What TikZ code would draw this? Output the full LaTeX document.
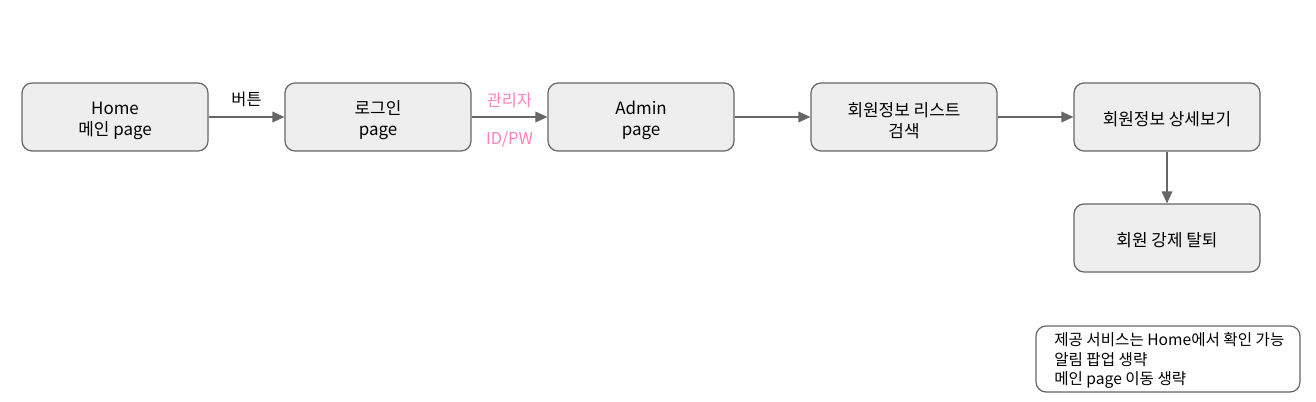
\documentclass[tikz,border=0pt]{standalone}
\usepackage{fontspec}
\setmainfont{Noto Sans CJK KR}
\usetikzlibrary{arrows.meta}
\definecolor{boxfill}{HTML}{EEEEEE}
\definecolor{boxline}{HTML}{666666}
\definecolor{pinktxt}{HTML}{FF80C0}
\tikzset{
  stepbox/.style={draw=boxline, fill=boxfill, rounded corners=7.5pt, line width=0.9pt,
    minimum width=186*0.75pt, minimum height=68*0.75pt, align=center, inner sep=0pt,
    font=\fontsize{12.7}{15.75}\selectfont},
  conn/.style={draw=boxline, line width=1pt, -{Triangle[length=9pt,width=8pt]}},
  lbl/.style={font=\fontsize{12.3}{13}\selectfont},
  notebox/.style={draw=boxline, fill=white, rounded corners=7.5pt, line width=0.9pt,
    minimum width=264*0.75pt, minimum height=66*0.75pt, inner sep=0pt},
  notetext/.style={align=left, inner sep=0pt, anchor=north west,
    font=\fontsize{11.7}{14.6}\selectfont}
}
\begin{document}
\begin{tikzpicture}[x=0.75pt,y=-0.75pt]
\useasboundingbox (0,0) rectangle (1316,402);
\node[stepbox] (home) at (115,117) {};
\node[stepbox] (login) at (378,117) {};
\node[stepbox] (admin) at (641,117) {};
\node[stepbox] (list) at (904,117) {};
\node[stepbox] (detail) at (1167,117) {};
\node[stepbox] (remove) at (1167,238) {};
\node[stepbox, draw=none, fill=none] (hometxt) at (115,120.5) {Home\\메인 page};
\node[stepbox, draw=none, fill=none] (logintxt) at (378,120.5) {로그인\\page};
\node[stepbox, draw=none, fill=none] (admintxt) at (641,120.5) {Admin\\page};
\node[stepbox, draw=none, fill=none] (listtxt) at (904,120.5) {회원정보 리스트\\검색};
\node[stepbox, draw=none, fill=none] (detailtxt) at (1167,119.5) {회원정보 상세보기};
\node[stepbox, draw=none, fill=none] (removetxt) at (1167,240.5) {회원 강제 탈퇴};
\node[notebox] (note) at (1168,359) {};
\node[notetext] (notet) at (1054,332.5) {제공 서비스는 Home에서 확인 가능\\알림 팝업 생략\\메인 page 이동 생략};
\draw[conn] (home) -- node[lbl, above=4pt] {버튼} (login);
\draw[conn] (login) -- node[lbl, text=pinktxt, above=3pt] {관리자} node[lbl, text=pinktxt, below=7pt] {ID/PW} (admin);
\draw[conn] (admin) -- (list);
\draw[conn] (list) -- (detail);
\draw[conn] (detail) -- (remove);
\end{tikzpicture}
\end{document}
